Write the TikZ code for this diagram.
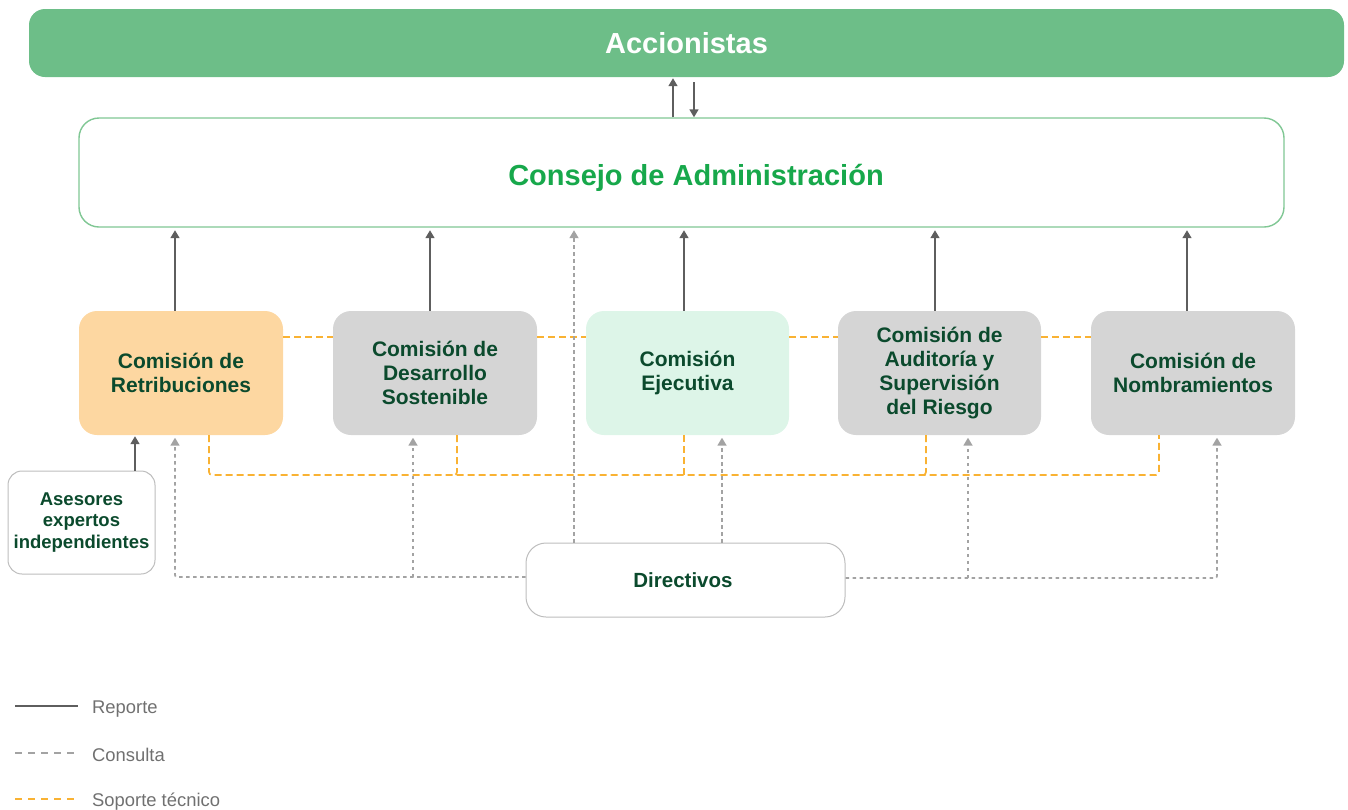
\documentclass[tikz,border=0pt]{standalone}
\usepackage{fontspec}
\setmainfont{Liberation Sans}
\usetikzlibrary{arrows.meta}
\definecolor{accg}{HTML}{6DBE88}
\definecolor{consb}{HTML}{80C794}
\definecolor{consg}{HTML}{17A84B}
\definecolor{dkg}{HTML}{0B4A2D}
\definecolor{peach}{HTML}{FDD7A1}
\definecolor{grayb}{HTML}{D5D5D5}
\definecolor{lgreen}{HTML}{DDF5E8}
\definecolor{repc}{HTML}{5E5E5E}
\definecolor{conc}{HTML}{A3A3A3}
\definecolor{sopc}{HTML}{F9B233}
\definecolor{legt}{HTML}{707070}
\definecolor{wbord}{HTML}{BDBDBD}
\begin{document}
\begin{tikzpicture}[x=1pt,y=-1pt,
  combox/.style={rounded corners=18pt, minimum width=204pt, minimum height=124pt, inner sep=0pt, align=center, font=\bfseries\fontsize{21}{24.3}\selectfont, text=dkg},
  rep/.style={draw=repc, line width=1.6pt, shorten >=2.5pt, -{Triangle[length=8pt,width=9pt]}},
  con/.style={draw=conc, line width=1.7pt, dash pattern=on 3.5pt off 3.5pt, shorten >=2.5pt, -{Triangle[length=8pt,width=9pt,fill=conc]}},
  sop/.style={draw=sopc, line width=1.7pt, dash pattern=on 7pt off 4pt},
  legtext/.style={anchor=west, inner sep=0pt, text=legt, font=\fontsize{18.4}{21}\selectfont}
]
\useasboundingbox (0,0) rectangle (1348,809);

% top
\node[fill=accg, rounded corners=16pt, minimum width=1315pt, minimum height=68pt, inner sep=0pt, text=white, font=\bfseries\fontsize{29}{34}\selectfont] (acc) at (686.5,43) {Accionistas};
\node[draw=consb, fill=white, line width=1.4pt, rounded corners=20pt, minimum width=1205pt, minimum height=109pt, inner sep=0pt, text=consg, font=\bfseries\fontsize{29}{34}\selectfont] (cons) at (681.5,172.5) {\hspace*{29pt}\raisebox{-13pt}[0pt][0pt]{Consejo de Administración}};

% commissions
\node[combox, fill=peach] (r1) at (181,373) {Comisión de\\Retribuciones};
\node[combox, fill=grayb] (r2) at (435,373) {Comisión de\\Desarrollo\\Sostenible};
\node[combox, fill=lgreen, minimum width=203pt] (r3) at (687.5,373) {Comisión\\Ejecutiva};
\node[combox, fill=grayb, minimum width=203pt] (r4) at (939.5,373) {Comisión de\\Auditoría y\\Supervisión\\del Riesgo};
\node[combox, fill=grayb] (r5) at (1193,373) {Comisión de\\Nombramientos};

% others
\node[draw=wbord, fill=white, line width=1pt, rounded corners=20pt, minimum width=319pt, minimum height=74pt, inner sep=0pt, text=dkg, font=\bfseries\fontsize{20.5}{24}\selectfont] (dir) at (685.5,580) {\hspace*{-5pt}Directivos};
\node[draw=wbord, fill=white, line width=1pt, rounded corners=14pt, minimum width=147pt, minimum height=103pt, inner sep=0pt, align=center, text=dkg, font=\bfseries\fontsize{18.5}{21.7}\selectfont] (ase) at (81.5,522.5) {Asesores\\expertos\\independientes};

% coordinates
\coordinate (u1) at (673,0);
\coordinate (u2) at (694,0);
\coordinate (k1) at (175,0);
\coordinate (k2) at (430,0);
\coordinate (k3) at (684,0);
\coordinate (k4) at (935,0);
\coordinate (k5) at (1187,0);
\coordinate (a1) at (135,0);
\coordinate (o1) at (209,475);
\coordinate (o2) at (457,475);
\coordinate (o3) at (684,475);
\coordinate (o4) at (926,475);
\coordinate (o5) at (1159,475);
\coordinate (c1) at (175,577);
\coordinate (c2) at (413,577);
\coordinate (c3) at (968,578);
\coordinate (c4) at (1217,578);
\coordinate (c5) at (574,0);
\coordinate (c6) at (722,0);

% accionistas <-> consejo
\draw[rep, shorten >=1pt] (cons.north -| u1) -- (acc.south -| u1);
\draw[rep, shorten >=0pt] ([yshift=-5pt]acc.south -| u2) -- (cons.north -| u2);

% reporte
\foreach \r/\k in {r1/k1, r2/k2, r3/k3, r4/k4, r5/k5}
  \draw[rep] (\r.north -| \k) -- (cons.south -| \k);
\draw[rep, shorten >=1pt] (ase.north -| a1) -- (r1.south -| a1);

% soporte tecnico
\draw[sop] ([yshift=36pt]r1.east) -- ([yshift=36pt]r2.west);
\draw[sop] ([yshift=36pt]r2.east) -- ([yshift=36pt]r3.west);
\draw[sop] ([yshift=36pt]r3.east) -- ([yshift=36pt]r4.west);
\draw[sop] ([yshift=36pt]r4.east) -- ([yshift=36pt]r5.west);
\draw[sop, rounded corners=3pt] (r1.south -| o1) -- (o1) -- (o5) -- (r5.south -| o5);
\draw[sop, rounded corners=3pt] (r2.south -| o2) -- (o2) -- ([xshift=-4pt]o2);
\draw[sop] (r3.south -| o3) -- (o3);
\draw[sop, rounded corners=3pt] (r4.south -| o4) -- (o4) -- ([xshift=-4pt]o4);

% consulta
\draw[con, rounded corners=2pt] (dir.west |- c1) -- (c1) -- (r1.south -| c1);
\draw[con] (c2) -- (r2.south -| c2);
\draw[con, rounded corners=2pt] (dir.east |- c4) -- (c4) -- (r5.south -| c4);
\draw[con] (c3) -- (r4.south -| c3);
\draw[con] (dir.north -| c5) -- (cons.south -| c5);
\draw[con] (dir.north -| c6) -- (r3.south -| c6);

% legend
\coordinate (la) at (15,706);
\coordinate (lb) at (78,706);
\coordinate (lc) at (15,753);
\coordinate (ld) at (78,753);
\coordinate (le) at (15,799);
\coordinate (lf) at (78,799);
\draw[draw=repc, line width=1.5pt] (la) -- (lb);
\draw[draw=conc, line width=1.5pt, dash pattern=on 7pt off 6pt] (lc) -- (ld);
\draw[draw=sopc, line width=1.7pt, dash pattern=on 7pt off 6pt] (le) -- (lf);
\node[legtext] (lt1) at (92,709) {Reporte};
\node[legtext] (lt2) at (92,755) {Consulta};
\node[legtext] (lt3) at (92,802) {Soporte técnico};
\end{tikzpicture}
\end{document}
